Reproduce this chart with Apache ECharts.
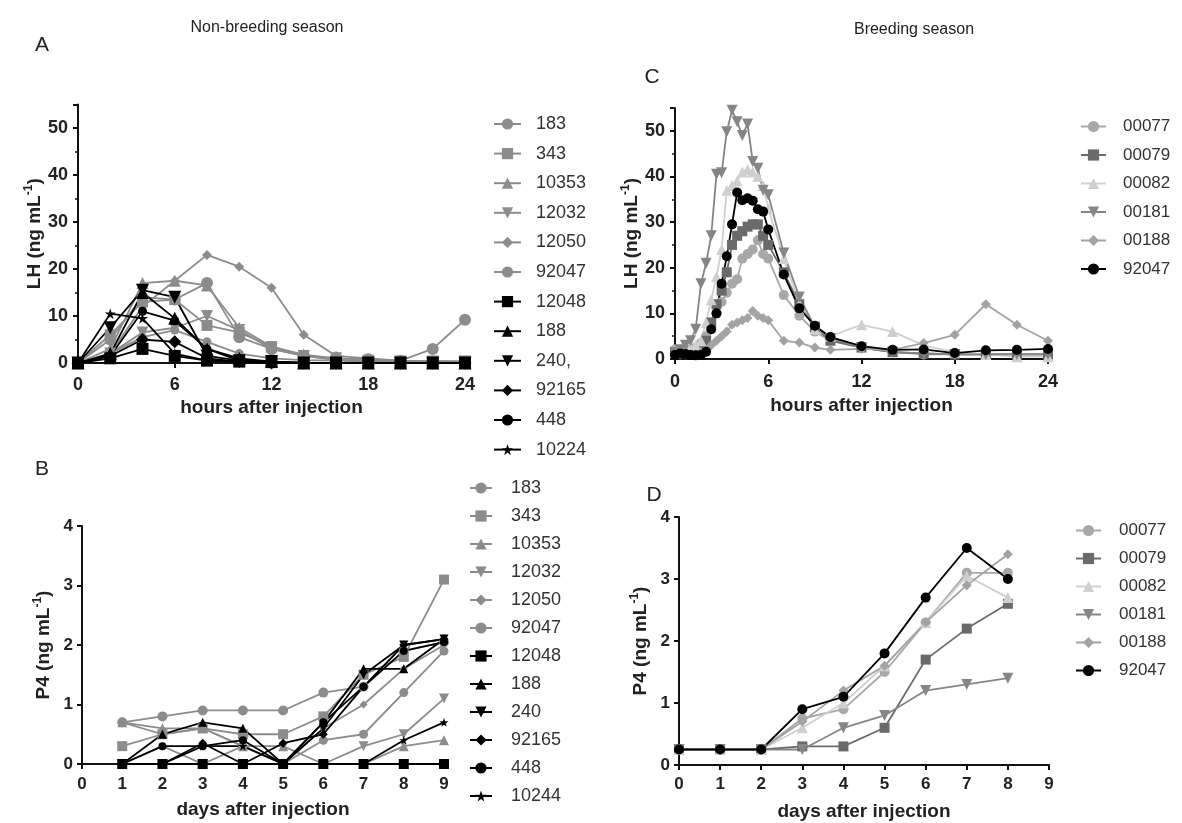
<!DOCTYPE html>
<html><head><meta charset="utf-8">
<script src="https://cdn.jsdelivr.net/npm/echarts@6/dist/echarts.min.js"></script>
<style>html,body{margin:0;padding:0;background:#fff}#c{width:1182px;height:823px}</style>
</head><body><div id="c"></div>
<script>
// ---------- Panel A: LH, non-breeding season ----------
const hoursA = [0,2,4,6,8,10,12,14,16,18,20,22,24];
const A_183   = [0,5,14,13.5,17,5.5,3,1.5,1,0.8,0.5,3,9.2];
const A_343   = [0,6,13,13.5,8,6.5,3.5,1.5,0.6,0.4,0.3,0.3,0.3];
const A_10353 = [0,3,17,17.5,16.5,7.5,3.5,1.8,1,0.6,0.3,0.3,0.3];
const A_12032 = [0,2,6.5,7.5,10,7,3,1.5,1,0.5,0.3,0.3,0.3];
const A_12050 = [0,2,12,17.5,23,20.5,16,6,1.5,1,0.5,0.4,0.3];
const A_92047 = [0,2,5.5,7,4.5,2,1,0.6,0.5,0.3,0.3,0.3,0.3];
const A_12048 = [0,1,3,1.5,0.5,0.3,0.2,0,0,0,0,0,0];
const A_188   = [0,2,15,9.5,3,1,0.3,0,0,0,0,0,0];
const A_240   = [0,7.5,15.5,14,1.5,0.5,0.3,0,0,0,0,0,0];
const A_92165 = [0,1.5,5,4.5,1,0.3,0,0,0,0,0,0,0];
const A_448   = [0,1.5,11,9,3,0.5,0.2,0,0,0,0,0,0];
const A_10224 = [0,10.5,9.5,2,0.5,0.3,0,0,0,0,0,0,0];

// ---------- Panel C: LH, breeding season ----------
const hoursC = [0,0.33,0.67,1,1.33,1.67,2,2.33,2.67,3,3.33,3.67,4,4.33,4.67,5,5.33,5.67,6,7,8,9,10,12,14,16,18,20,22,24];
const C_00077 = [2,2,2,2,2.5,3.5,5,7.5,10,12.5,14.5,16.5,17.5,22,23,24,26,23,22,14,9.5,6,4,2.5,1.5,1,1,1,1,1];
const C_00079 = [1.5,1.5,1.5,1.5,1.5,2.5,4,8,12,15,19,25,27,28,29,29.5,29.5,27,25,19,12,7,4,2.5,1.5,1.2,1,1,1,1];
const C_00082 = [2,2,2,2.5,3,4,8,13,18,24,37,38,39,41,41.5,41,40,38,33,22,12,6.5,5,7.5,6,3,1.5,1,0.5,0.5];
const C_00181 = [1.5,2,3,4,6.5,16.5,21,27,40.5,40.8,49.8,54.5,52,49,51.5,43.3,41.8,37,36,23.2,13.6,7,4.5,2.5,1.5,1.2,1,1,1,1];
const C_00188 = [1,1,1,1,1,1.5,2,3,4,5,6,7.5,8,8.5,9,10.5,9.5,9,8.5,4,3.6,2.5,2,2.2,2,3.5,5.3,12,7.5,4];
const C_92047 = [0.9,1.2,1.1,0.9,0.8,0.9,1.6,6.5,10,16.5,22.5,29.5,36.5,34.8,35.2,34.7,32.8,32.3,28.4,18.5,11.1,7.3,4.8,2.8,2,2.1,1.3,1.9,2,2.2];

// ---------- Panel B: P4, non-breeding season ----------
const daysB = [1,2,3,4,5,6,7,8,9];
const B_183   = [0.7,0.8,0.9,0.9,0.9,1.2,1.3,1.9,2.05];
const B_343   = [0.3,0.5,0.6,0.5,0.5,0.8,1.5,1.8,3.1];
const B_10353 = [0.7,0.6,0.6,0.3,0.3,0,0,0.3,0.4];
const B_12032 = [0,0,0,0,0,0,0.3,0.5,1.1];
const B_12050 = [0,0.3,0,0.3,0,0.6,1.0,1.6,2.0];
const B_92047 = [0.7,0.5,0.6,0.3,0,0.4,0.5,1.2,1.9];
const B_12048 = [0,0,0,0,0,0,0,0,0];
const B_188   = [0,0.5,0.7,0.6,0,0.7,1.6,1.6,2.1];
const B_240   = [0,0,0,0,0,0.6,1.5,2.0,2.1];
const B_92165 = [0,0,0.35,0,0.35,0.5,1.3,2.0,2.1];
const B_448   = [0,0.3,0.3,0.4,0,0.7,1.3,1.9,2.05];
const B_10244 = [0,0,0.3,0.3,0,0,0,0.4,0.7];

// ---------- Panel D: P4, breeding season ----------
const daysD = [0,1,2,3,4,5,6,7,8];
const D_00077 = [0.25,0.25,0.25,0.75,0.9,1.5,2.3,3.1,3.1];
const D_00079 = [0.25,0.25,0.25,0.3,0.3,0.6,1.7,2.2,2.6];
const D_00082 = [0.25,0.25,0.25,0.6,1.0,1.6,2.3,3.05,2.7];
const D_00181 = [0.25,0.25,0.25,0.25,0.6,0.8,1.2,1.3,1.4];
const D_00188 = [0.25,0.25,0.25,0.7,1.2,1.6,2.3,2.9,3.4];
const D_92047 = [0.25,0.25,0.25,0.9,1.1,1.8,2.7,3.5,3.0];

// ---------- styles ----------
const GRAY = '#8c8c8c', BLACK = '#000';
const STAR = 'path://M50,0 L61,35 L98,35 L68,57 L79,91 L50,70 L21,91 L32,57 L2,35 L39,35 Z';
const FONT = '"Liberation Sans", Arial, sans-serif';

function mk(name, panel, axis, xs, ys, sym, size, color, rot) {
  return {
    type: 'line', name: name + '|' + panel,
    xAxisIndex: axis, yAxisIndex: axis,
    data: xs.map((x, i) => [x, ys[i]]),
    symbol: sym, symbolSize: size, symbolRotate: rot || 0,
    itemStyle: { color: color },
    lineStyle: { color: color, width: 1.8 },
    emphasis: { disabled: true },
    animation: false
  };
}

const series = [
  mk('183','A',0,hoursA,A_183,'circle',12,GRAY),
  mk('343','A',0,hoursA,A_343,'rect',11,GRAY),
  mk('10353','A',0,hoursA,A_10353,'triangle',12,GRAY),
  mk('12032','A',0,hoursA,A_12032,'triangle',12,GRAY,180),
  mk('12050','A',0,hoursA,A_12050,'diamond',10,GRAY),
  mk('92047','A',0,hoursA,A_92047,'circle',9,GRAY),
  mk('12048','A',0,hoursA,A_12048,'rect',12,BLACK),
  mk('188','A',0,hoursA,A_188,'triangle',13,BLACK),
  mk('240,','A',0,hoursA,A_240,'triangle',13,BLACK,180),
  mk('92165','A',0,hoursA,A_92165,'diamond',13,BLACK),
  mk('448','A',0,hoursA,A_448,'circle',9,BLACK),
  mk('10224','A',0,hoursA,A_10224,STAR,11,BLACK),

  mk('00077','C',1,hoursC,C_00077,'circle',10,'#a8a8a8'),
  mk('00079','C',1,hoursC,C_00079,'rect',10,'#6a6a6a'),
  mk('00082','C',1,hoursC,C_00082,'triangle',11,'#cfcfcf'),
  mk('00181','C',1,hoursC,C_00181,'triangle',11,'#858585',180),
  mk('00188','C',1,hoursC,C_00188,'diamond',10,'#a3a3a3'),
  mk('92047','C',1,hoursC,C_92047,'circle',10,BLACK),

  mk('183','B',2,daysB,B_183,'circle',10,GRAY),
  mk('343','B',2,daysB,B_343,'rect',10,GRAY),
  mk('10353','B',2,daysB,B_10353,'triangle',10,GRAY),
  mk('12032','B',2,daysB,B_12032,'triangle',10,GRAY,180),
  mk('12050','B',2,daysB,B_12050,'diamond',8,GRAY),
  mk('92047','B',2,daysB,B_92047,'circle',9,GRAY),
  mk('12048','B',2,daysB,B_12048,'rect',10,BLACK),
  mk('188','B',2,daysB,B_188,'triangle',9,BLACK),
  mk('240','B',2,daysB,B_240,'triangle',9,BLACK,180),
  mk('92165','B',2,daysB,B_92165,'diamond',9,BLACK),
  mk('448','B',2,daysB,B_448,'circle',8,BLACK),
  mk('10244','B',2,daysB,B_10244,STAR,9,BLACK),

  mk('00077','D',3,daysD,D_00077,'circle',10,'#a8a8a8'),
  mk('00079','D',3,daysD,D_00079,'rect',10,'#6a6a6a'),
  mk('00082','D',3,daysD,D_00082,'triangle',11,'#cfcfcf'),
  mk('00181','D',3,daysD,D_00181,'triangle',11,'#858585',180),
  mk('00188','D',3,daysD,D_00188,'diamond',10,'#a3a3a3'),
  mk('92047','D',3,daysD,D_92047,'circle',10,BLACK)
];

function legendFor(panel, left, top, gap, fs, iw, pad) {
  return {
    orient: 'vertical', left: left, top: top, itemGap: gap, padding: 0,
    itemWidth: iw, itemHeight: 14, height: 345,
    selectedMode: false,
    data: series.filter(s => s.name.endsWith('|' + panel)).map(s => s.name),
    formatter: n => n.split('|')[0],
    textStyle: { fontFamily: FONT, fontSize: fs, color: '#333', padding: [0, 0, 0, pad] }
  };
}

const axisLine = { show: true, onZero: false, lineStyle: { color: '#111', width: 2 } };
const axisTick = { show: true, length: 5, lineStyle: { color: '#111', width: 2 } };
function lbl(fs, m) { return { fontFamily: FONT, fontSize: fs, fontWeight: 'bold', color: '#222', margin: m }; }
function yName(t) { return '{n|' + t + ' (ng mL}{s|-1}{n|)}'; }
const nameStyle = {
  fontFamily: FONT, fontSize: 19, fontWeight: 'bold', color: '#222',
  rich: {
    n: { fontFamily: FONT, fontSize: 19, fontWeight: 'bold', color: '#222' },
    s: { fontFamily: FONT, fontSize: 12, fontWeight: 'bold', color: '#222', verticalAlign: 'top', padding: [0, 0, 11, 0] }
  }
};
const xNameStyle = { fontFamily: FONT, fontSize: 19, fontWeight: 'bold', color: '#222' };
const minor = { show: true, splitNumber: 2, length: 3, lineStyle: { color: '#111', width: 1.5 } };

const option = {
  backgroundColor: '#fff',
  animation: false,
  grid: [
    { left: 78, top: 104.5, width: 387, height: 258.5, outerBoundsMode: 'none' },
    { left: 675, top: 108, width: 373, height: 251, outerBoundsMode: 'none' },
    { left: 82, top: 526, width: 362, height: 238, outerBoundsMode: 'none' },
    { left: 679, top: 517, width: 370, height: 248, outerBoundsMode: 'none' }
  ],
  xAxis: [
    { gridIndex: 0, type: 'value', min: 0, max: 24, interval: 6, axisLine, axisTick, splitLine: { show: false },
      axisLabel: lbl(18, 13), name: 'hours after injection', nameLocation: 'middle', nameGap: 35, nameTextStyle: xNameStyle },
    { gridIndex: 1, type: 'value', min: 0, max: 24, interval: 6, axisLine, axisTick, splitLine: { show: false },
      axisLabel: lbl(18, 14), name: 'hours after injection', nameLocation: 'middle', nameGap: 37, nameTextStyle: xNameStyle },
    { gridIndex: 2, type: 'value', min: 0, max: 9, interval: 1, axisLine, axisTick, splitLine: { show: false },
      axisLabel: lbl(17, 12), name: 'days after injection', nameLocation: 'middle', nameGap: 36, nameTextStyle: xNameStyle },
    { gridIndex: 3, type: 'value', min: 0, max: 9, interval: 1, axisLine, axisTick, splitLine: { show: false },
      axisLabel: lbl(17, 11), name: 'days after injection', nameLocation: 'middle', nameGap: 37, nameTextStyle: xNameStyle }
  ],
  yAxis: [
    { gridIndex: 0, type: 'value', min: 0, max: 55, interval: 10, axisLine, axisTick, splitLine: { show: false },
      minorTick: minor,
      axisLabel: Object.assign(lbl(18, 10), { showMaxLabel: false }), name: yName('LH'), nameLocation: 'middle', nameGap: 31, nameRotate: 90, nameTextStyle: nameStyle },
    { gridIndex: 1, type: 'value', min: 0, max: 55, interval: 10, axisLine, axisTick, splitLine: { show: false },
      minorTick: minor,
      axisLabel: Object.assign(lbl(18, 10), { showMaxLabel: false }), name: yName('LH'), nameLocation: 'middle', nameGap: 32, nameRotate: 90, nameTextStyle: nameStyle },
    { gridIndex: 2, type: 'value', min: 0, max: 4, interval: 1, axisLine, axisTick, splitLine: { show: false },
      axisLabel: lbl(17, 9), name: yName('P4'), nameLocation: 'middle', nameGap: 27, nameRotate: 90, nameTextStyle: nameStyle },
    { gridIndex: 3, type: 'value', min: 0, max: 4, interval: 1, axisLine, axisTick, splitLine: { show: false },
      axisLabel: lbl(17, 9), name: yName('P4'), nameLocation: 'middle', nameGap: 27, nameRotate: 90, nameTextStyle: nameStyle }
  ],
  legend: [
    legendFor('A', 493, 115, 11.6, 18, 27, 10),
    legendFor('C', 1080, 118, 11.5, 17, 25, 12),
    legendFor('B', 469, 479, 10, 18, 22, 14),
    legendFor('D', 1075, 522, 11, 17, 25, 13)
  ],
  graphic: [
    { type: 'text', x: 267, y: 28, style: { text: 'Non-breeding season', fontFamily: FONT, fontSize: 16, fill: '#222', align: 'center', verticalAlign: 'middle' } },
    { type: 'text', x: 914, y: 30, style: { text: 'Breeding season', fontFamily: FONT, fontSize: 16, fill: '#222', align: 'center', verticalAlign: 'middle' } },
    { type: 'text', x: 42, y: 45, style: { text: 'A', fontFamily: FONT, fontSize: 21, fill: '#222', align: 'center', verticalAlign: 'middle' } },
    { type: 'text', x: 42, y: 469, style: { text: 'B', fontFamily: FONT, fontSize: 21, fill: '#222', align: 'center', verticalAlign: 'middle' } },
    { type: 'text', x: 652, y: 77, style: { text: 'C', fontFamily: FONT, fontSize: 21, fill: '#222', align: 'center', verticalAlign: 'middle' } },
    { type: 'text', x: 654, y: 495, style: { text: 'D', fontFamily: FONT, fontSize: 21, fill: '#222', align: 'center', verticalAlign: 'middle' } }
  ],
  series: series
};

const chart = echarts.init(document.getElementById('c'), null, { renderer: 'canvas' });
chart.setOption(option);
</script>
</body></html>
